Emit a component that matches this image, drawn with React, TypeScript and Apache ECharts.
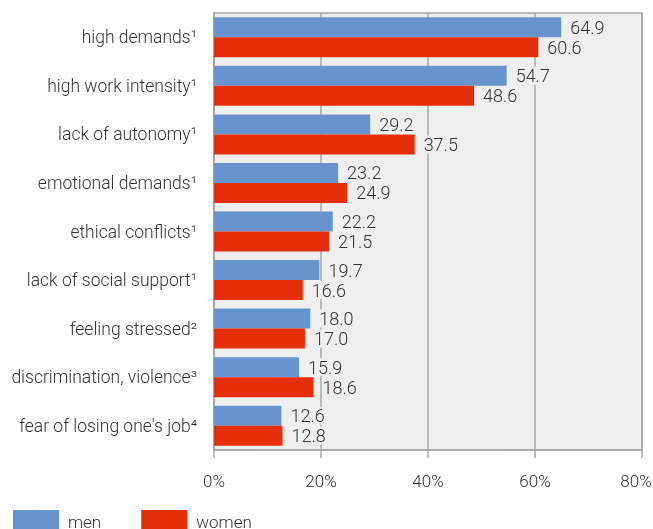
import React, { useEffect, useRef } from "react";
import * as echarts from "echarts";

const categories = [
  "high demands¹",
  "high work intensity¹",
  "lack of autonomy¹",
  "emotional demands¹",
  "ethical conflicts¹",
  "lack of social support¹",
  "feeling stressed²",
  "discrimination, violence³",
  "fear of losing one's job⁴",
];
const men = [64.9, 54.7, 29.2, 23.2, 22.2, 19.7, 18.0, 15.9, 12.6];
const women = [60.6, 48.6, 37.5, 24.9, 21.5, 16.6, 17.0, 18.6, 12.8];
const seriesNames = ["men", "women"];
const colors = ["#6794cc", "#e52f0b"];
const xMax = 80;

const FONT = "Roboto";
const TEXT = "#333333";

export default function App() {
  const ref = useRef<HTMLDivElement>(null);
  useEffect(() => {
    if (!ref.current) return;
    const chart = echarts.init(ref.current, null, { renderer: "svg" });
    const labelStyle = {
      show: true,
      position: "right",
      distance: 9,
      color: TEXT,
      fontFamily: FONT,
      fontWeight: 300,
      fontSize: 18,
      backgroundColor: "#efefef",
      formatter: (p: any) => Number(p.value).toFixed(1),
    };
    const tickText = {
      color: TEXT,
      fontFamily: FONT,
      fontWeight: 300,
      fontSize: 17,
    };
    chart.setOption({
      animation: false,
      grid: {
        left: 214,
        right: 11,
        top: 13,
        bottom: 79,
        containLabel: false,
        outerBoundsMode: "none",
        show: true,
        backgroundColor: "#efefef",
        borderColor: "#a8a8a8",
        borderWidth: 1.5,
      },
      legend: {
        left: 8,
        top: 505,
        itemWidth: 46,
        itemHeight: 24,
        itemGap: 40,
        icon: "rect",
        data: seriesNames,
        textStyle: {
          color: TEXT,
          fontFamily: FONT,
          fontWeight: 300,
          fontSize: 17,
          lineHeight: 17,
          padding: [0, 0, 0, 4],
        },
      },
      xAxis: {
        type: "value",
        min: 0,
        max: xMax,
        interval: 20,
        axisLine: { show: true, lineStyle: { color: "#a8a8a8", width: 1.5 } },
        axisTick: { show: true, length: 8, lineStyle: { color: "#a8a8a8", width: 1.5 } },
        splitLine: { show: true, lineStyle: { color: "#a8a8a8", width: 1.5 } },
        axisLabel: {
          formatter: (v: number) => (v === xMax ? `{m|${v}%}` : `${v}%`),
          margin: 22,
          ...tickText,
          rich: {
            m: { ...tickText, padding: [0, 12, 0, 0] },
          },
        },
      },
      yAxis: {
        type: "category",
        inverse: true,
        data: categories,
        axisLine: { show: true, lineStyle: { color: "#a8a8a8", width: 2 } },
        axisTick: { show: false },
        axisLabel: {
          margin: 17,
          color: TEXT,
          fontFamily: FONT,
          fontWeight: 300,
          fontSize: 17.5,
        },
      },
      series: [
        {
          name: seriesNames[0],
          type: "bar",
          data: men,
          barWidth: 20,
          barGap: "0%",
          itemStyle: { color: colors[0] },
          label: labelStyle,
        },
        {
          name: seriesNames[1],
          type: "bar",
          data: women,
          barWidth: 20,
          barGap: "0%",
          itemStyle: { color: colors[1] },
          label: labelStyle,
        },
      ],
    });
    return () => chart.dispose();
  }, []);
  return (
    <div
      ref={ref}
      style={{ position: "fixed", left: 0, top: 0, width: 653, height: 529 }}
    />
  );
}
